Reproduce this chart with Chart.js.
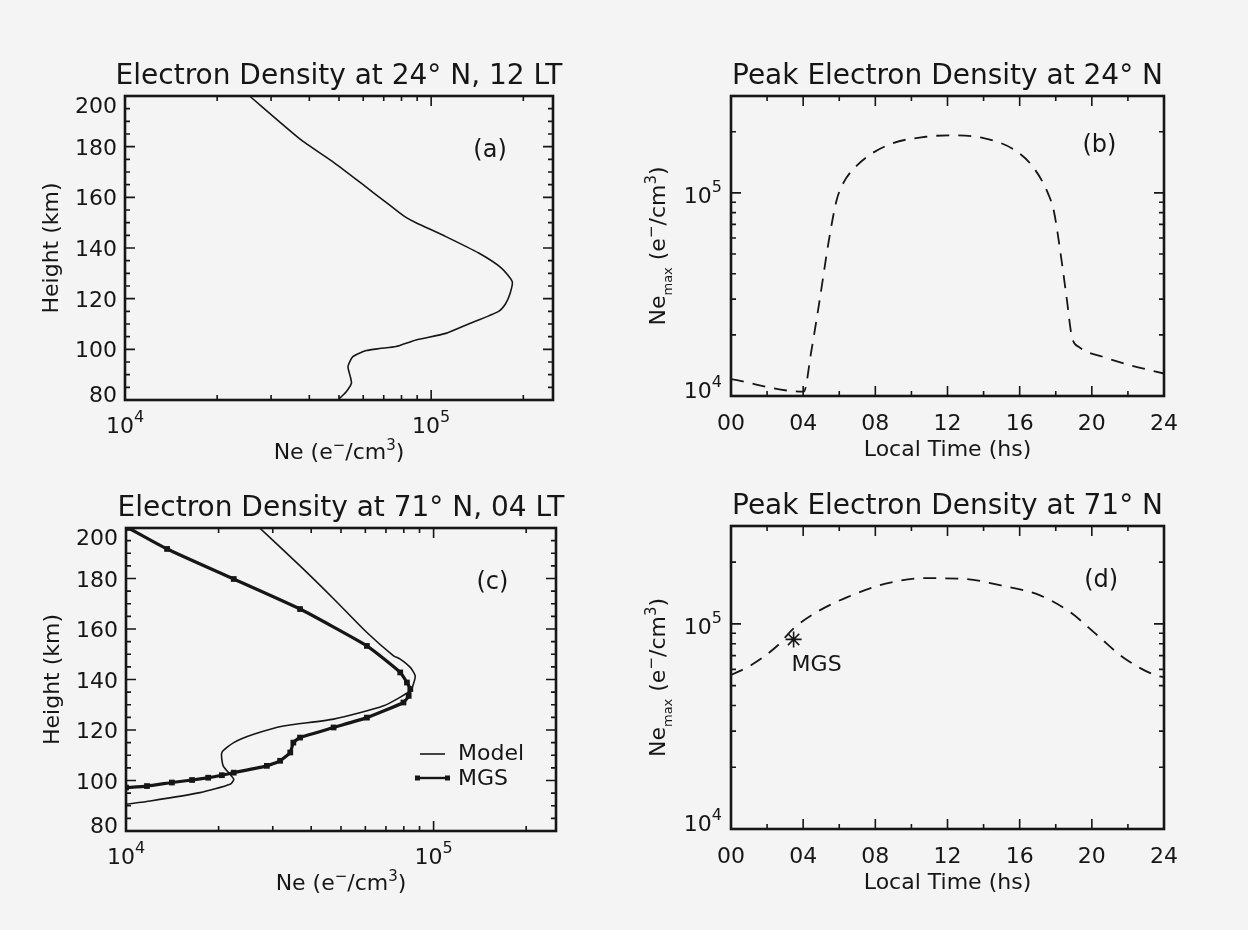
<!DOCTYPE html>
<html>
<head>
<meta charset="utf-8">
<script src="https://cdn.jsdelivr.net/npm/chart.js@4.4.1/dist/chart.umd.min.js"></script>
<style>
  html, body { margin: 0; padding: 0; background: #f4f4f4; }
  #page { position: relative; width: 1248px; height: 930px; overflow: hidden; background: #f4f4f4; }
  canvas { position: absolute; }
</style>
</head>
<body>
<div id="page">
  <canvas id="chartA"></canvas>
  <canvas id="chartB"></canvas>
  <canvas id="chartC"></canvas>
  <canvas id="chartD"></canvas>
</div>
<script>
// (a) electron density profile at 24N, 12 LT
const heightA = [200, 183, 174, 164, 160, 154, 152, 150, 144.5, 138, 132, 126.7, 122, 118, 115, 110, 106.3, 103.7, 101.1, 100.3, 99.5, 97.1, 93.2, 89, 86.6, 83.3, 80];
const neA = [2.55e4, 3.73e4, 4.78e4, 6.14e4, 6.78e4, 7.87e4, 8.3e4, 8.92e4, 1.117e5, 1.43e5, 1.70e5, 1.84e5, 1.81e5, 1.75e5, 1.66e5, 1.325e5, 1.117e5, 8.92e4, 7.68e4, 6.78e4, 6.14e4, 5.55e4, 5.35e4, 5.45e4, 5.49e4, 5.28e4, 4.96e4];

// (b) peak electron density at 24N vs local time
const timeB = [0, 4.03, 4.46, 4.88, 5.42, 5.84, 6.16, 7.0, 8.7, 10.8, 12.3, 14.0, 15.7, 16.8, 17.6, 17.9, 18.3, 18.6, 18.9, 19.3, 20.6, 22.1, 24];
const neB = [1.21e4, 1.05e4, 1.68e4, 2.84e4, 5.8e4, 9.1e4, 1.09e5, 1.37e5, 1.72e5, 1.89e5, 1.92e5, 1.86e5, 1.63e5, 1.32e5, 9.8e4, 8.1e4, 4.8e4, 3.06e4, 1.95e4, 1.74e4, 1.56e4, 1.42e4, 1.29e4];

// (c) profiles at 71N, 04 LT: model and MGS
const heightCModel = [200, 185, 172, 158.6, 149.4, 148.1, 144.8, 141.5, 138.2, 135.5, 129.6, 124.3, 121.6, 118.3, 115, 111.1, 105.8, 100.5, 98.5, 95.2, 91.9, 90.6];
const neCModel = [2.72e4, 3.68e4, 4.73e4, 6.07e4, 7.41e4, 7.79e4, 8.4e4, 8.71e4, 8.6e4, 8.4e4, 6.88e4, 4.73e4, 3.25e4, 2.6e4, 2.24e4, 2.05e4, 2.07e4, 2.24e4, 2.18e4, 1.74e4, 1.2e4, 1.0e4];
const heightCMgs = [200, 191.7, 179.8, 167.9, 153.3, 142.8, 138.8, 136.2, 133.5, 130.9, 124.9, 121, 117, 115, 111.1, 107.8, 105.8, 103.1, 102.1, 101.1, 100.2, 99.2, 97.8, 97.2];
const neCMgs = [1.02e4, 1.36e4, 2.24e4, 3.68e4, 6.07e4, 7.79e4, 8.19e4, 8.4e4, 8.3e4, 7.98e4, 6.07e4, 4.73e4, 3.68e4, 3.5e4, 3.42e4, 3.17e4, 2.87e4, 2.24e4, 2.05e4, 1.85e4, 1.64e4, 1.41e4, 1.17e4, 1.0e4];

// (d) peak electron density at 71N vs local time, plus the MGS measurement
const timeD = [0, 1.13, 2.6, 3.47, 4.74, 6.45, 8.57, 10.7, 12.8, 14.96, 17.1, 18.8, 20.3, 21.8, 23.5, 24];
const neD = [5.63e4, 6.3e4, 7.87e4, 9.5e4, 1.14e5, 1.35e5, 1.57e5, 1.67e5, 1.66e5, 1.54e5, 1.38e5, 1.14e5, 8.8e4, 6.8e4, 5.63e4, 5.5e4];
const mgsTimeD = [3.47];
const mgsPeakD = [8.4e4];

// ticks
const neTicks = [1e4, 2e4, 3e4, 4e4, 5e4, 6e4, 7e4, 8e4, 9e4, 1e5, 2e5];
const peakTicks = [1e4, 2e4, 3e4, 4e4, 5e4, 6e4, 7e4, 8e4, 9e4, 1e5, 2e5, 3e5];
const decades = [1e4, 1e5];
const heightLabels = [80, 100, 120, 140, 160, 180, 200];
const timeLabelValues = [0, 4, 8, 12, 16, 20, 24];
const timeLabels = ['00', '04', '08', '12', '16', '20', '24'];

const FONT = '"DejaVu Sans", "Liberation Sans", sans-serif';
const INK = '#161616';
const PAD_L = 125, PAD_T = 96, PAD_R = 75, PAD_B = 75;

const toPoints = (xs, ys) => xs.map((v, i) => ({ x: v, y: ys[i] }));

// draws a run of text pieces [text, size, dy]
function textRun(ctx, parts, x, y, align) {
  let w = 0;
  parts.forEach(p => { ctx.font = p[1] + 'px ' + FONT; w += ctx.measureText(p[0]).width; });
  let cx = align === 'center' ? x - w / 2 : (align === 'right' ? x - w : x);
  ctx.textAlign = 'left';
  parts.forEach(p => {
    ctx.font = p[1] + 'px ' + FONT;
    ctx.fillText(p[0], cx, y + (p[2] || 0));
    cx += ctx.measureText(p[0]).width;
  });
}

function decade(ctx, v, x, y, align) {
  textRun(ctx, [['10', 22, 0], [String(Math.round(Math.log10(v))), 16, -11]], x, y, align);
}

const neUnit = [['Ne (e', 22], ['\u2212', 15, -9], ['/cm', 22], ['3', 15, -9], [')', 22]];
const neMaxUnit = [['Ne', 22], ['max', 13, 7], [' (e', 22], ['\u2212', 15, -9], ['/cm', 22], ['3', 15, -9], [')', 22]];

function decor(cfg) {
  return {
    id: 'decor',
    afterDraw(chart) {
      const ctx = chart.ctx, ca = chart.chartArea;
      const xs = chart.scales.x, ys = chart.scales.y;
      ctx.save();
      ctx.strokeStyle = INK;
      ctx.fillStyle = INK;

      // inward tick marks on all four sides
      ctx.lineWidth = 1.6;
      ctx.beginPath();
      xs.ticks.forEach(t => {
        const p = xs.getPixelForValue(t.value);
        const len = cfg.majorX(t.value) ? 10 : 5;
        ctx.moveTo(p, ca.bottom); ctx.lineTo(p, ca.bottom - len);
        ctx.moveTo(p, ca.top); ctx.lineTo(p, ca.top + len);
      });
      ys.ticks.forEach(t => {
        const p = ys.getPixelForValue(t.value);
        const len = cfg.majorY(t.value) ? 10 : 5;
        ctx.moveTo(ca.left, p); ctx.lineTo(ca.left + len, p);
        ctx.moveTo(ca.right, p); ctx.lineTo(ca.right - len, p);
      });
      ctx.stroke();

      ctx.lineWidth = 2.6;
      ctx.strokeRect(ca.left, ca.top, ca.right - ca.left, ca.bottom - ca.top);

      ctx.textBaseline = 'alphabetic';
      const midX = (ca.left + ca.right) / 2, midY = (ca.top + ca.bottom) / 2;

      if (cfg.kind === 'profile') {
        decades.forEach(v => decade(ctx, v, xs.getPixelForValue(v), ca.bottom + 33, 'center'));
        ctx.font = '22px ' + FONT;
        ctx.textAlign = 'right';
        heightLabels.forEach(h => {
          let y = ys.getPixelForValue(h) + 8;
          if (h === 200) y += 9;
          if (h === 80) y -= 6;
          ctx.fillText(String(h), ca.left - 8, y);
        });
        textRun(ctx, neUnit, midX, ca.bottom + 59, 'center');
        ctx.save();
        ctx.translate(ca.left - 67, midY);
        ctx.rotate(-Math.PI / 2);
        textRun(ctx, [['Height (km)', 22]], 0, 0, 'center');
        ctx.restore();
      } else {
        ctx.font = '22px ' + FONT;
        ctx.textAlign = 'center';
        timeLabelValues.forEach((v, i) => ctx.fillText(timeLabels[i], xs.getPixelForValue(v), ca.bottom + 34));
        decades.forEach(v => {
          const y = Math.min(ys.getPixelForValue(v) + 10, ca.bottom + 2);
          decade(ctx, v, ca.left - 9, y, 'right');
        });
        textRun(ctx, [['Local Time (hs)', 22]], midX, ca.bottom + 60, 'center');
        ctx.save();
        ctx.translate(ca.left - 66, midY);
        ctx.rotate(-Math.PI / 2);
        textRun(ctx, neMaxUnit, 0, 0, 'center');
        ctx.restore();
      }

      // title
      textRun(ctx, [[cfg.title, 28]], midX, ca.top - 12, 'center');

      // panel tag
      ctx.font = '24px ' + FONT;
      ctx.textAlign = 'center';
      ctx.textBaseline = 'middle';
      ctx.fillText(cfg.tag[0], ca.left + cfg.tag[1] * (ca.right - ca.left), ca.top + cfg.tag[2] * (ca.bottom - ca.top));
      ctx.textBaseline = 'alphabetic';

      if (cfg.extra) cfg.extra(ctx, ca, xs, ys);
      ctx.restore();
    }
  };
}

function makeChart(id, area, datasets, scales, cfg) {
  const cv = document.getElementById(id);
  cv.width = area[2] - area[0] + PAD_L + PAD_R;
  cv.height = area[3] - area[1] + PAD_T + PAD_B;
  cv.style.left = (area[0] - PAD_L) + 'px';
  cv.style.top = (area[1] - PAD_T) + 'px';
  scales.x.afterFit = s => { s.height = PAD_B; };
  scales.y.afterFit = s => { s.width = PAD_L; };
  return new Chart(cv.getContext('2d'), {
    type: 'scatter',
    data: { datasets: datasets },
    options: {
      responsive: false,
      animation: false,
      events: [],
      layout: { padding: { left: 0, right: PAD_R, top: PAD_T, bottom: 0 } },
      scales: scales,
      plugins: { legend: { display: false }, tooltip: { enabled: false }, title: { display: false } }
    },
    plugins: [decor(cfg)]
  });
}

const hidden = { grid: { display: false }, border: { display: false } };

function profileScales() {
  return {
    x: Object.assign({ type: 'logarithmic', min: 1e4, max: 2.5e5, bounds: 'data', ticks: { display: false },
      afterBuildTicks: s => { s.ticks = neTicks.map(v => ({ value: v })); } }, hidden),
    y: Object.assign({ type: 'linear', min: 80, max: 200, ticks: { display: false, stepSize: 5, maxTicksLimit: 60 } }, hidden)
  };
}
function diurnalScales() {
  return {
    x: Object.assign({ type: 'linear', min: 0, max: 24, ticks: { display: false, stepSize: 2, maxTicksLimit: 60 } }, hidden),
    y: Object.assign({ type: 'logarithmic', min: 1e4, max: 3e5, bounds: 'data', ticks: { display: false },
      afterBuildTicks: s => { s.ticks = peakTicks.map(v => ({ value: v })); } }, hidden)
  };
}
const isDecade = v => Math.abs(Math.log10(v) - Math.round(Math.log10(v))) < 1e-6;

const solid = { showLine: true, borderColor: INK, borderWidth: 1.6, pointRadius: 0, tension: 0.2, fill: false };
const dashed = { showLine: true, borderColor: INK, borderWidth: 1.8, pointRadius: 0, borderDash: [13, 9],
  cubicInterpolationMode: 'monotone', fill: false };

makeChart('chartA', [125, 96, 553, 400],
  [Object.assign({ label: 'Model', data: toPoints(neA, heightA) }, solid)],
  profileScales(),
  { kind: 'profile', title: 'Electron Density at 24\u00b0 N, 12 LT', tag: ['(a)', 0.853, 0.181],
    majorX: isDecade, majorY: v => v % 20 === 0 });

makeChart('chartB', [731, 96, 1164, 396],
  [Object.assign({ label: 'Ne max', data: toPoints(timeB, neB) }, dashed)],
  diurnalScales(),
  { kind: 'diurnal', title: 'Peak Electron Density at 24\u00b0 N', tag: ['(b)', 0.851, 0.166],
    majorX: v => v % 4 === 0, majorY: isDecade });

makeChart('chartC', [126, 528, 556, 831],
  [Object.assign({ label: 'Model', data: toPoints(neCModel, heightCModel) }, solid),
   { label: 'MGS', data: toPoints(neCMgs, heightCMgs), showLine: true, borderColor: INK, borderWidth: 3.2,
     pointRadius: 1.8, pointStyle: 'rect', pointBackgroundColor: INK, pointBorderColor: INK, tension: 0.15 }],
  profileScales(),
  { kind: 'profile', title: 'Electron Density at 71\u00b0 N, 04 LT', tag: ['(c)', 0.852, 0.18],
    majorX: isDecade, majorY: v => v % 20 === 0,
    extra: (ctx, ca) => {
      const lx = ca.left + 292, tx = ca.left + 332;
      ctx.lineWidth = 1.6;
      ctx.beginPath(); ctx.moveTo(lx + 2, ca.top + 226); ctx.lineTo(lx + 27, ca.top + 226); ctx.stroke();
      ctx.lineWidth = 2.4;
      ctx.beginPath(); ctx.moveTo(lx - 1, ca.top + 250); ctx.lineTo(lx + 30, ca.top + 250); ctx.stroke();
      ctx.fillRect(lx - 3, ca.top + 247.5, 5, 5);
      ctx.fillRect(lx + 27, ca.top + 247.5, 5, 5);
      ctx.font = '22px ' + FONT;
      ctx.textAlign = 'left';
      ctx.fillText('Model', tx, ca.top + 232);
      ctx.fillText('MGS', tx, ca.top + 257);
    } });

makeChart('chartD', [731, 526, 1164, 829],
  [Object.assign({ label: 'Ne max', data: toPoints(timeD, neD) }, dashed),
   { label: 'MGS', data: toPoints(mgsTimeD, mgsPeakD), showLine: false, pointStyle: 'star', pointRadius: 8,
     borderWidth: 1.6, pointBorderColor: INK, pointBackgroundColor: INK }],
  diurnalScales(),
  { kind: 'diurnal', title: 'Peak Electron Density at 71\u00b0 N', tag: ['(d)', 0.855, 0.182],
    majorX: v => v % 4 === 0, majorY: isDecade,
    extra: (ctx, ca, xs, ys) => {
      ctx.font = '22px ' + FONT;
      ctx.textAlign = 'left';
      ctx.fillText('MGS', xs.getPixelForValue(mgsTimeD[0]) - 2, ys.getPixelForValue(mgsPeakD[0]) + 32);
    } });
</script>
</body>
</html>
